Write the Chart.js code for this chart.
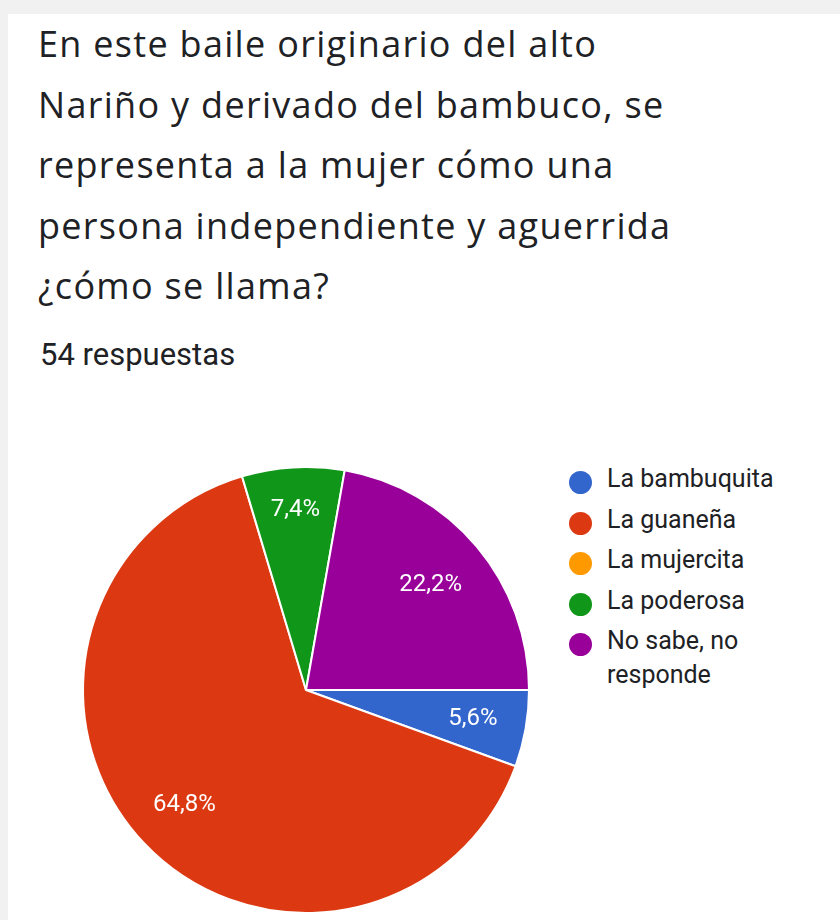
<!DOCTYPE html>
<html><head><meta charset="utf-8">
<script src="https://cdn.jsdelivr.net/npm/chart.js@4"></script>
<style>
html,body{margin:0;padding:0;background:#f1f1f1;width:840px;height:920px;overflow:hidden;font-family:Roboto,"Noto Sans",Arial,sans-serif;}
#card{position:absolute;left:8px;top:14px;width:840px;height:920px;background:#fff;}
#title{position:absolute;left:38px;top:14px;font-family:"Open Sans",Roboto,sans-serif;font-size:36px;letter-spacing:1.3px;line-height:60.6px;color:#202124;white-space:nowrap;}
#sub{position:absolute;left:40px;top:336px;font-size:31px;color:#202124;}
#wrap{position:absolute;left:66px;top:450px;width:480px;height:480px;}
#legend{position:absolute;left:568px;top:462px;font-size:25px;color:#202124;line-height:40.5px;}
.li{position:relative;padding-left:39px;}
.dot{position:absolute;left:1px;top:9px;width:23px;height:23px;border-radius:50%;}
.li span{display:inline-block;line-height:34px;vertical-align:top;}
</style></head>
<body>
<div id="card"></div>
<div id="title"></div>
<div id="sub"></div>
<div id="wrap"><canvas id="c"></canvas></div>
<div id="legend"></div>
<script>
const titleLines = ["En este baile originario del alto","Nariño y derivado del bambuco, se","representa a la mujer cómo una","persona independiente y aguerrida","¿cómo se llama?"];
const totalText = "54 respuestas";
const categories = ["La bambuquita","La guaneña","La mujercita","La poderosa","No sabe, no responde"];
const legendLines = [["La bambuquita"],["La guaneña"],["La mujercita"],["La poderosa"],["No sabe, no","responde"]];
const counts = [3,35,0,4,12];
const percentLabels = ["5,6%","64,8%","","7,4%","22,2%"];
const colors = ["#3366cc","#dc3912","#ff9900","#109618","#990099"];

document.getElementById('title').innerHTML = titleLines.join('<br>');
document.getElementById('sub').textContent = totalText;
const lg = document.getElementById('legend');
legendLines.forEach((lines,i)=>{
  const d=document.createElement('div');d.className='li';
  d.innerHTML='<div class="dot" style="background:'+colors[i]+'"></div><span>'+lines.join('<br>')+'</span>';
  lg.appendChild(d);
});

const labelRadius=[0.76,0.75,0.75,0.81,0.73];
const pctPlugin={id:'pct',afterDatasetsDraw(chart){
  const ctx=chart.ctx;const meta=chart.getDatasetMeta(0);
  ctx.save();ctx.fillStyle='#fff';ctx.font='24px Roboto';ctx.textAlign='center';ctx.textBaseline='middle';
  meta.data.forEach((arc,i)=>{
    if(!percentLabels[i])return;
    const p=arc.getProps(['x','y','startAngle','endAngle','outerRadius'],true);
    const a=(p.startAngle+p.endAngle)/2;const r=p.outerRadius*labelRadius[i];
    ctx.fillText(percentLabels[i],p.x+Math.cos(a)*r,p.y+Math.sin(a)*r);
  });
  ctx.restore();
}};

new Chart(document.getElementById('c'),{
  type:'pie',
  data:{labels:categories,datasets:[{data:counts,backgroundColor:colors,borderColor:'#fff',borderWidth:2}]},
  options:{responsive:true,maintainAspectRatio:false,animation:false,rotation:90,
    layout:{padding:16},
    plugins:{legend:{display:false},tooltip:{enabled:false}}},
  plugins:[pctPlugin]
});
</script>
</body></html>
